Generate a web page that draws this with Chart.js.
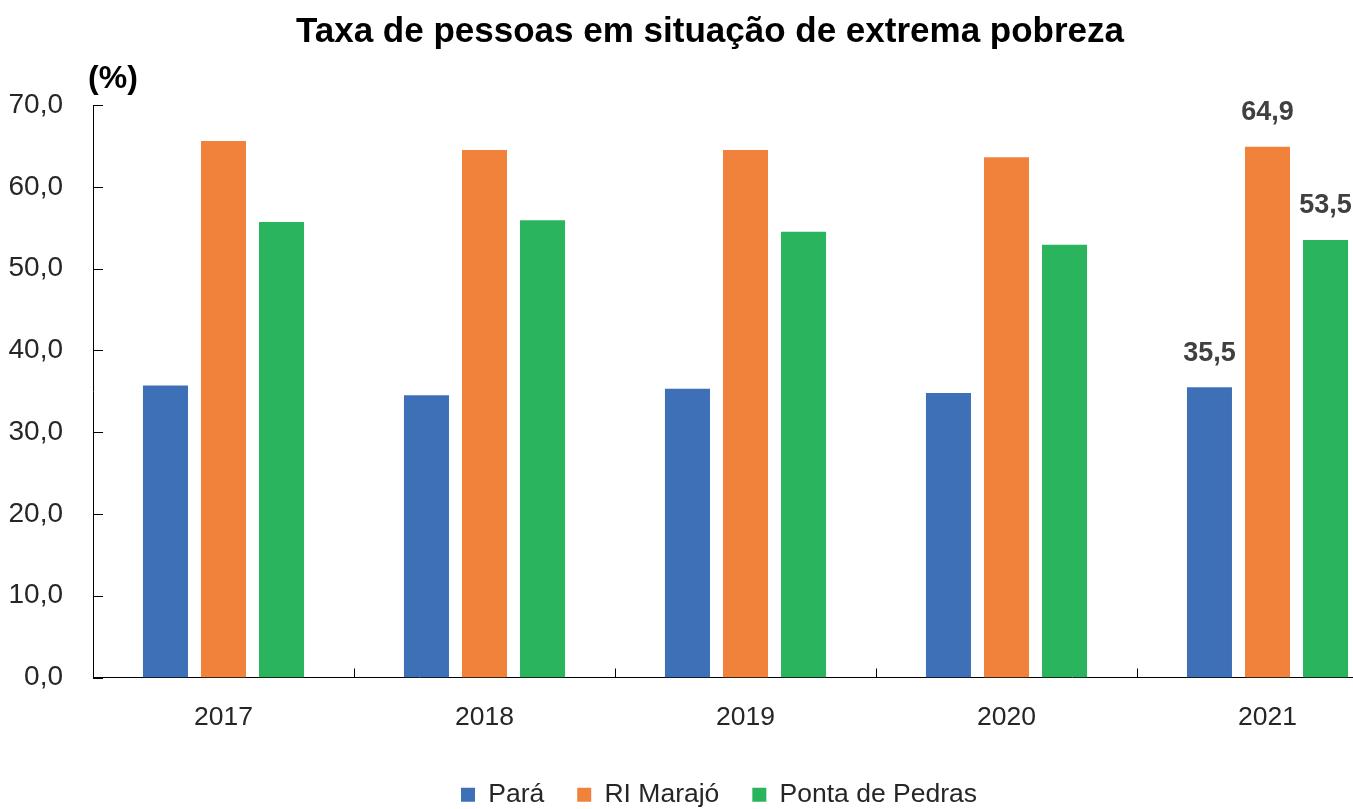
<!DOCTYPE html>
<html><head><meta charset="utf-8">
<script src="https://cdn.jsdelivr.net/npm/chart.js@4/dist/chart.umd.min.js"></script>
<style>
html,body{margin:0;padding:0;background:#fff;overflow:hidden;}
#wrap{position:relative;width:1424px;height:818px;}
</style></head><body>
<div id="wrap"><canvas id="c"></canvas></div>
<script>
const categories = ['2017','2018','2019','2020','2021'];
const para = [35.7, 34.5, 35.3, 34.8, 35.5];
const marajo = [65.6, 64.5, 64.5, 63.6, 64.9];
const pontaDePedras = [55.7, 55.9, 54.5, 52.9, 53.5];
const seriesNames = ['Pará', 'RI Marajó', 'Ponta de Pedras'];
const seriesColors = ['#3E70B8', '#F0823C', '#2BB45E'];
const yTicks = [0, 10, 20, 30, 40, 50, 60, 70];
const labelledIndex = 4;
const titleText = 'Taxa de pessoas em situação de extrema pobreza';
const unitText = '(%)';
const FONT = '"Liberation Sans", Arial, sans-serif';

const fmt = v => Number(v).toFixed(1).replace('.', ',');

const blockShift = {
  id: 'blockShift',
  afterLayout(chart) {
    if (chart.titleBlock) { chart.titleBlock.left += 9; chart.titleBlock.right += 9; }
    if (chart.legend) { chart.legend.left += 18; chart.legend.right += 18; }
  }
};

const extras = {
  id: 'extras',
  afterDraw(chart) {
    const {ctx, chartArea} = chart;
    const x = chart.scales.x, y = chart.scales.y;
    ctx.save();
    ctx.strokeStyle = '#000'; ctx.lineWidth = 1;
    ctx.beginPath();
    yTicks.forEach(v => {
      const py = Math.round(y.getPixelForValue(v)) + 0.5;
      ctx.moveTo(chartArea.left, py); ctx.lineTo(chartArea.left + 10, py);
    });
    for (let i = 1; i < categories.length; i++) {
      const px = Math.round((x.getPixelForValue(i - 1) + x.getPixelForValue(i)) / 2) + 0.5;
      ctx.moveTo(px, chartArea.bottom); ctx.lineTo(px, chartArea.bottom - 9);
    }
    ctx.stroke();
    ctx.fillStyle = '#000';
    ctx.font = 'bold 32px ' + FONT;
    ctx.textAlign = 'center'; ctx.textBaseline = 'middle';
    ctx.fillText(unitText, chartArea.left + 20, chartArea.top - 26);
    ctx.fillStyle = '#404040';
    ctx.font = 'bold 27px ' + FONT;
    chart.data.datasets.forEach((ds, di) => {
      const el = chart.getDatasetMeta(di).data[labelledIndex];
      ctx.fillText(fmt(ds.data[labelledIndex]), el.x, el.y - 34);
    });
    ctx.restore();
  }
};

const seriesData = [para, marajo, pontaDePedras];
new Chart(document.getElementById('c'), {
  type: 'bar',
  data: {
    labels: categories,
    datasets: seriesNames.map((n, i) => ({
      label: n, data: seriesData[i], backgroundColor: seriesColors[i],
      categoryPercentage: 0.667, barPercentage: 0.776
    }))
  },
  options: {
    responsive: true, maintainAspectRatio: false, animation: false,
    layout: { padding: { left: 4, right: 26, top: 0, bottom: 0 } },
    plugins: {
      title: { display: true, text: titleText, color: '#000',
        font: { family: FONT, size: 35, weight: 'bold' }, padding: { top: 11, bottom: 52 } },
      legend: { position: 'bottom',
        labels: { boxWidth: 14, boxHeight: 14, padding: 33, color: '#262626',
          font: { family: FONT, size: 26.5 } } },
      tooltip: { enabled: false }
    },
    scales: {
      x: {
        grid: { display: false, drawTicks: false },
        border: { display: true, color: '#000', width: 1 },
        ticks: { color: '#262626', font: { family: FONT, size: 26.5 }, padding: 24, maxRotation: 0, autoSkip: false },
        afterFit(s) { s.height = 71; }
      },
      y: {
        min: 0, max: 70,
        grid: { display: false, drawTicks: false },
        border: { display: true, color: '#000', width: 1 },
        ticks: { stepSize: 10, color: '#262626', font: { family: FONT, size: 28 }, padding: 30,
          callback: v => fmt(v) },
        afterFit(s) { s.width = 89; }
      }
    }
  },
  plugins: [blockShift, extras]
});
</script>
</body></html>
